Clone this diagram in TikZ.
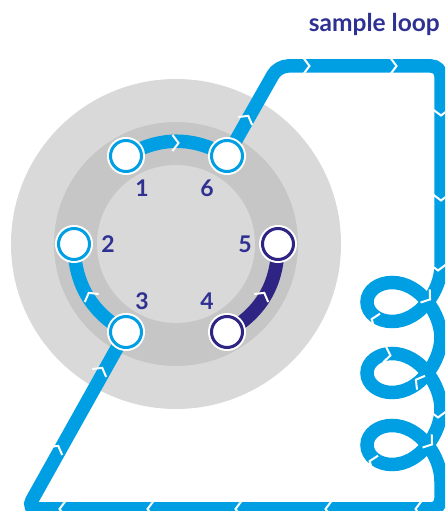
\documentclass[tikz,border=0pt]{standalone}
\usepackage{fontspec}
\setmainfont{Lato}
\usepackage{xcolor}
\usetikzlibrary{positioning}
\definecolor{loopblue}{HTML}{009FE3}
\definecolor{loopnavy}{HTML}{2E2483}
\definecolor{textnavy}{HTML}{2E3192}
\definecolor{rotorout}{HTML}{D9D9D9}
\definecolor{rotormid}{HTML}{C6C6C6}
\begin{document}
\begin{tikzpicture}[
  x=1pt,y=1pt,
  disc/.style={circle,inner sep=0pt,minimum size=#1},
  port/.style={circle,draw=loopblue,fill=white,line width=3pt,inner sep=0pt,
               minimum size=31pt,preaction={draw=white,line width=7pt}},
  portdark/.style={port,draw=loopnavy},
  num/.style={font=\fontsize{23}{23}\selectfont\bfseries,text=textnavy,inner sep=0pt},
  flow/.style={draw=loopblue,line width=13.5pt},
  flowdark/.style={draw=loopnavy,line width=13.5pt},
  chev/.pic={\draw[white,line width=2pt] (-3.5,8) -- (2.5,0) -- (-3.5,-8);}
]
\useasboundingbox (0,0) rectangle (445,511);
\clip (0,0) rectangle (445,511);

%------ rotor discs -----------------------------------------------------------
\node[disc=330pt,fill=rotorout] (outer) at (176,267) {};
\node[disc=244pt,fill=rotormid] (middle) at (176,267) {};
\node[disc=158pt,fill=rotorout] (inner) at (176,267) {};

%------ corners of the loop ----------------------------------------------------
\coordinate (tl) at (278,445);
\coordinate (tr) at (441,445);
\coordinate (cin) at (441,245);
\coordinate (cout) at (441,30);
\coordinate (br) at (441,2);
\coordinate (bl) at (27,2);

%------ ports (placed first so that the lines can name them) -------------------
\path (126,355) coordinate (c1) (227,355) coordinate (c6) (74,267) coordinate (c2)
      (278,267) coordinate (c5) (126,179) coordinate (c3) (227,179) coordinate (c4);

%------ sample loop ------------------------------------------------------------
\draw[flow,rounded corners=10pt] (c6) -- (tl) -- (tr) -- (cin);
\foreach \yc in {209,138,66}
  \draw[flow] (441,\yc+36) .. controls (441,\yc+12) and (420,\yc-19.5) .. (392,\yc-19.5)
    .. controls (378,\yc-19.5) and (367,\yc-11) .. (367,\yc)
    .. controls (367,\yc+11) and (378,\yc+19.5) .. (392,\yc+19.5)
    .. controls (420,\yc+19.5) and (441,\yc-12) .. (441,\yc-36);
\draw[flow,rounded corners=10pt] (cout) -- (br) -- (bl) -- (c3);

%------ rotor grooves ----------------------------------------------------------
\draw[flow] (c1) to[bend left=30] (c6);
\draw[flow] (c3) to[bend left=30] (c2);
\draw[flowdark] (c4) to[bend right=30] (c5);

%------ arrows on the lines ----------------------------------------------------
\foreach \x/\y/\a in {176/368/0,247/393/60,307/445/0,394/445/0,441/398/-90,441/313/-90,
    438/243/-90,428/213/-35,374/191/160,388/156/-10,418/130/150,438/96/-90,
    430/68/-35,372/49/160,418/2/180,328/2/180,238/2/180,150/2/180,62/2/180,
    57/63/60,101/141/60,90/216/120,263/216/60}
  \pic[rotate=\a] at (\x,\y) {chev};

%------ ports ------------------------------------------------------------------
\node[port] (p1) at (c1) {};
\node[port] (p2) at (c2) {};
\node[port] (p3) at (c3) {};
\node[portdark] (p4) at (c4) {};
\node[portdark] (p5) at (c5) {};
\node[port] (p6) at (c6) {};

%------ labels -----------------------------------------------------------------
\node[num] (n1) at (142,323) {1};
\node[num] (n2) at (108,267) {2};
\node[num] (n3) at (142,210) {3};
\node[num] (n4) at (207,210) {4};
\node[num] (n5) at (245,267) {5};
\node[num] (n6) at (207,323) {6};
\node[font=\fontsize{24.5}{24.5}\selectfont\bfseries,text=textnavy,inner sep=0pt,anchor=base east] (title) at (440,479) {sample loop};
\end{tikzpicture}
\end{document}
